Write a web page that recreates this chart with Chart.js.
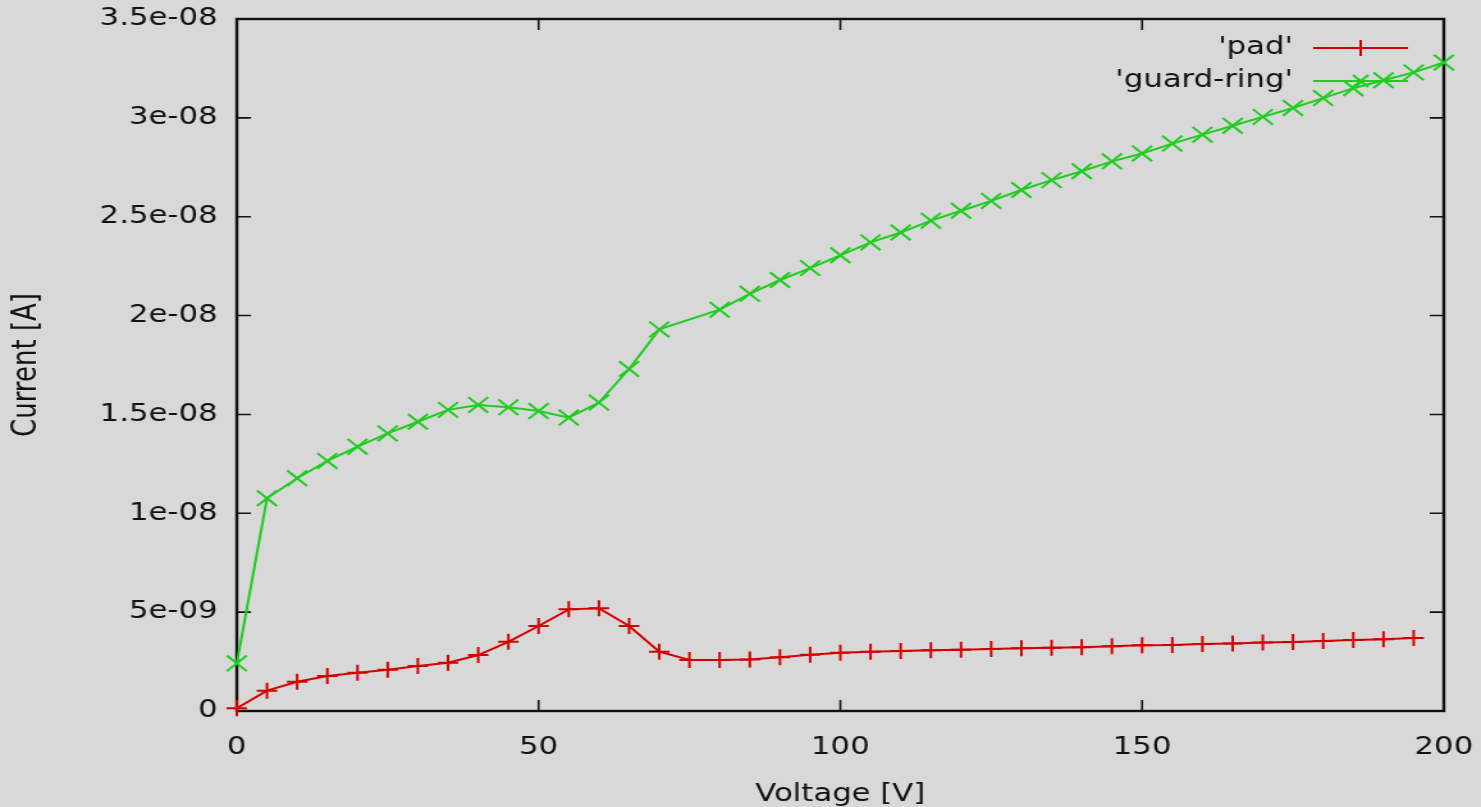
<!DOCTYPE html>
<html>
<head>
<meta charset="utf-8">
<script src="https://cdn.jsdelivr.net/npm/chart.js@4.4.1/dist/chart.umd.min.js"></script>
<style>
  html, body { margin: 0; padding: 0; background: #d8d8d8; overflow: hidden; }
  /* the reference is horizontally stretched, so the chart is drawn narrower and widened */
  #wrap { width: 1157px; height: 807px; transform: scaleX(1.28); transform-origin: 0 0; }
</style>
</head>
<body>
<div id="wrap"><canvas id="ivChart" width="1157" height="807"></canvas></div>
<script>
const FONT_COLOR = "#111111";
const PAD_COLOR = "#d40000";
const GUARD_COLOR = "#1fcc1f";

// values, currents in nA
const padVoltage = [0, 5, 10, 15, 20, 25, 30, 35, 40, 45, 50, 55, 60, 65, 70, 75, 80, 85, 90, 95,
  100, 105, 110, 115, 120, 125, 130, 135, 140, 145, 150, 155, 160, 165, 170, 175, 180, 185, 190, 195];
const padCurrentNA = [0.14, 1.03, 1.48, 1.77, 1.94, 2.09, 2.28, 2.44, 2.83, 3.5, 4.3, 5.14, 5.2, 4.3, 3.0, 2.58, 2.58, 2.61, 2.72, 2.85,
  2.95, 3.0, 3.03, 3.07, 3.1, 3.13, 3.17, 3.2, 3.23, 3.28, 3.32, 3.34, 3.39, 3.42, 3.46, 3.49, 3.54, 3.59, 3.63, 3.69];

const guardVoltage = [0, 5, 10, 15, 20, 25, 30, 35, 40, 45, 50, 55, 60, 65, 70, 80, 85, 90, 95, 100,
  105, 110, 115, 120, 125, 130, 135, 140, 145, 150, 155, 160, 165, 170, 175, 180, 185, 190, 195, 200];
const guardCurrentNA = [2.41, 10.76, 11.77, 12.65, 13.37, 14.04, 14.63, 15.23, 15.48, 15.36, 15.17, 14.84, 15.6, 17.3, 19.3, 20.3, 21.1, 21.8, 22.4, 23.05,
  23.7, 24.2, 24.8, 25.3, 25.8, 26.35, 26.85, 27.3, 27.8, 28.2, 28.7, 29.15, 29.6, 30.05, 30.5, 31.0, 31.5, 31.9, 32.3, 32.8];

const xTickValues = [0, 50, 100, 150, 200];
const xTickLabels = ["0", "50", "100", "150", "200"];
const yTickValues = [0, 5e-9, 1e-8, 1.5e-8, 2e-8, 2.5e-8, 3e-8, 3.5e-8];
const yTickLabels = ["0", "5e-09", "1e-08", "1.5e-08", "2e-08", "2.5e-08", "3e-08", "3.5e-08"];

const toPoints = (xs, ys) => xs.map((x, i) => ({ x: x, y: ys[i] * 1e-9 }));

Chart.defaults.font.family = "'DejaVu Sans', sans-serif";
Chart.defaults.font.size = 24;
Chart.defaults.color = FONT_COLOR;

// gnuplot style frame with inward ticks on all four sides, plus the key
const framePlugin = {
  id: "frame",
  beforeDatasetsDraw(chart) {
    const { ctx, chartArea: a, scales } = chart;
    const tick = 11;
    ctx.save();
    ctx.strokeStyle = "#111";
    ctx.lineWidth = 1.6;
    scales.x.ticks.forEach((t) => {
      const px = scales.x.getPixelForValue(t.value);
      ctx.beginPath();
      ctx.moveTo(px, a.bottom); ctx.lineTo(px, a.bottom - tick);
      ctx.moveTo(px, a.top); ctx.lineTo(px, a.top + tick);
      ctx.stroke();
    });
    scales.y.ticks.forEach((t) => {
      const py = scales.y.getPixelForValue(t.value);
      ctx.beginPath();
      ctx.moveTo(a.left, py); ctx.lineTo(a.left + tick, py);
      ctx.moveTo(a.right, py); ctx.lineTo(a.right - tick, py);
      ctx.stroke();
    });
    ctx.lineWidth = 2.4;
    ctx.strokeRect(a.left, a.top, a.right - a.left, a.bottom - a.top);
    ctx.restore();
  },
  afterDatasetsDraw(chart) {
    const { ctx, chartArea: a } = chart;
    ctx.save();
    ctx.font = "24px 'DejaVu Sans', sans-serif";
    ctx.textAlign = "right";
    ctx.textBaseline = "middle";
    chart.data.datasets.forEach((ds, i) => {
      const y = a.top + 29 + i * 33;
      const x0 = a.right - 102, x1 = a.right - 28, xm = (x0 + x1) / 2;
      ctx.fillStyle = FONT_COLOR;
      ctx.fillText(ds.label, a.right - 118, y);
      ctx.strokeStyle = ds.borderColor;
      ctx.lineWidth = 2;
      ctx.beginPath();
      ctx.moveTo(x0, y); ctx.lineTo(x1, y);
      const r = 8;
      if (ds.pointStyle === "cross") {
        ctx.moveTo(xm, y - r); ctx.lineTo(xm, y + r);
      } else {
        ctx.moveTo(xm - r * 0.75, y - r * 0.75); ctx.lineTo(xm + r * 0.75, y + r * 0.75);
        ctx.moveTo(xm - r * 0.75, y + r * 0.75); ctx.lineTo(xm + r * 0.75, y - r * 0.75);
      }
      ctx.stroke();
    });
    ctx.restore();
  },
};

new Chart(document.getElementById("ivChart"), {
  type: "line",
  data: {
    datasets: [
      {
        label: "'pad'",
        data: toPoints(padVoltage, padCurrentNA),
        borderColor: PAD_COLOR,
        backgroundColor: PAD_COLOR,
        borderWidth: 2,
        pointStyle: "cross",
        pointRadius: 8,
        pointBorderWidth: 2,
        pointHoverRadius: 8,
        tension: 0,
        clip: false,
      },
      {
        label: "'guard-ring'",
        data: toPoints(guardVoltage, guardCurrentNA),
        borderColor: GUARD_COLOR,
        backgroundColor: GUARD_COLOR,
        borderWidth: 2,
        pointStyle: "crossRot",
        pointRadius: 11,
        pointBorderWidth: 2,
        pointHoverRadius: 11,
        tension: 0,
        clip: false,
      },
    ],
  },
  options: {
    responsive: false,
    animation: false,
    layout: { padding: { top: 19, right: 29, left: 0, bottom: 0 } },
    plugins: {
      legend: { display: false },
      tooltip: { enabled: false },
    },
    scales: {
      x: {
        type: "linear",
        min: 0,
        max: 200,
        afterBuildTicks: (s) => { s.ticks = xTickValues.map((v) => ({ value: v })); },
        afterFit: (s) => { s.height = 96; s.paddingLeft = 0; s.paddingRight = 0; },
        ticks: {
          callback: (v, i) => xTickLabels[i],
          padding: 22,
          maxRotation: 0,
          autoSkip: false,
          color: FONT_COLOR,
        },
        grid: { display: false, drawTicks: false },
        border: { display: false },
        title: { display: true, text: "Voltage [V]", color: FONT_COLOR, padding: { top: 0, bottom: -2 } },
      },
      y: {
        type: "linear",
        min: 0,
        max: 3.5e-8,
        afterBuildTicks: (s) => { s.ticks = yTickValues.map((v) => ({ value: v })); },
        afterFit: (s) => { s.width = 185; s.paddingTop = 0; s.paddingBottom = 0; },
        ticks: {
          callback: (v, i) => yTickLabels[i],
          padding: 15,
          autoSkip: false,
          color: FONT_COLOR,
        },
        grid: { display: false, drawTicks: false },
        border: { display: false },
        title: { display: true, text: "Current [A]", color: FONT_COLOR, font: { size: 26 }, padding: { top: 6, bottom: 6 } },
      },
    },
  },
  plugins: [framePlugin],
});
</script>
</body>
</html>
